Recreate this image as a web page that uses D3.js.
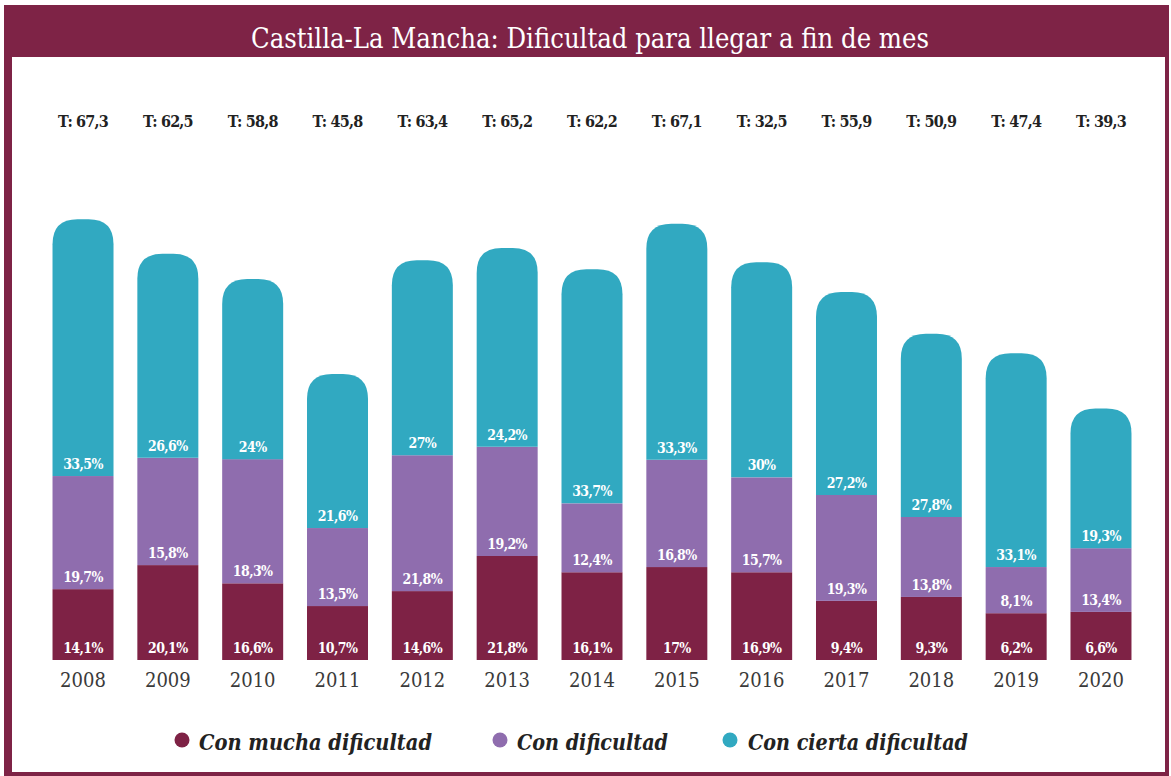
<!DOCTYPE html>
<html><head><meta charset="utf-8">
<script src="https://cdn.jsdelivr.net/npm/d3@7/dist/d3.min.js"></script>
<style>
html,body{margin:0;padding:0;background:#fff;}
svg{display:block;}
</style></head>
<body>
<svg id="chart" width="1171" height="776"></svg>
<script>
// ---- data ----
const years = ["2008","2009","2010","2011","2012","2013","2014","2015","2016","2017","2018","2019","2020"];
// values printed on the chart (%)
const mucha = [14.1,20.1,16.6,10.7,14.6,21.8,16.1,17,16.9,9.4,9.3,6.2,6.6];
const dificultad = [19.7,15.8,18.3,13.5,21.8,19.2,12.4,16.8,15.7,19.3,13.8,8.1,13.4];
const cierta = [33.5,26.6,24,21.6,27,24.2,33.7,33.3,30,27.2,27.8,33.1,19.3];
const totals = [67.3,62.5,58.8,45.8,63.4,65.2,62.2,67.1,32.5,55.9,50.9,47.4,39.3];
// segment heights as plotted in the original infographic (not proportional to labels)
const muchaPlotted = [10.9,14.6,11.8,8.3,10.6,16.0,13.5,14.3,13.5,9.1,9.7,7.2,7.4];
const dificultadPlotted = [17.4,16.5,19.1,12.0,20.9,16.8,10.6,16.5,14.6,16.3,12.3,7.1,9.8];
const ciertaPlotted = [39.5,31.4,27.7,23.7,30.0,30.6,36.0,36.3,33.1,31.2,28.2,32.9,21.5];
const seriesNames = ["Con mucha dificultad","Con dificultad","Con cierta dificultad"];
const colors = ["#7e2245","#8f6dae","#31a9c1"];
const title = "Castilla-La Mancha: Dificultad para llegar a fin de mes";

// ---- drawing ----
const svg = d3.select("#chart");
const maroon = "#7e2346";
const serif = "'Roboto Slab','DejaVu Serif Condensed','DejaVu Serif',serif";

// frame
svg.append("rect").attr("x",4).attr("y",5).attr("width",1164).attr("height",52).attr("fill",maroon);
svg.append("rect").attr("x",4).attr("y",5).attr("width",8).attr("height",771).attr("fill",maroon);
svg.append("rect").attr("x",1165).attr("y",5).attr("width",4).attr("height",771).attr("fill",maroon);
svg.append("rect").attr("x",4).attr("y",772).attr("width",1165).attr("height",4).attr("fill",maroon);

svg.append("text").attr("x",590).attr("y",48).attr("text-anchor","middle")
  .attr("fill","#fff").attr("font-family",serif).attr("font-size",27)
  .attr("textLength",678).attr("lengthAdjust","spacingAndGlyphs")
  .text(title);

const x = d3.scaleBand().domain(years).range([40.6,1143.4]).paddingInner(0.281).paddingOuter(0.1405);
const y = d3.scaleLinear().domain([0,70]).range([660,205]);

const rows = years.map((yr,i)=>{
  const a = muchaPlotted[i], b = dificultadPlotted[i], c = ciertaPlotted[i];
  return {yr, segs:[
    {v:mucha[i], y0:0, y1:a, k:0},
    {v:dificultad[i], y0:a, y1:a+b, k:1},
    {v:cierta[i], y0:a+b, y1:a+b+c, k:2}
  ], total: totals[i]};
});

const fmt = v => String(v).replace(".",",");
const bw = x.bandwidth();
const r = 25;

const g = svg.append("g");
rows.forEach(row=>{
  const x0 = x(row.yr), cx = x0 + bw/2;
  row.segs.forEach(s=>{
    const yb = y(s.y0), yt = y(s.y1);
    if (s.k < 2) {
      g.append("rect").attr("x",x0).attr("y",yt).attr("width",bw).attr("height",yb-yt).attr("fill",colors[s.k]);
    } else {
      const p = d3.path();
      p.moveTo(x0,yb); p.lineTo(x0,yt+r);
      p.quadraticCurveTo(x0,yt,x0+r,yt);
      p.lineTo(x0+bw-r,yt);
      p.quadraticCurveTo(x0+bw,yt,x0+bw,yt+r);
      p.lineTo(x0+bw,yb); p.closePath();
      g.append("path").attr("d",p.toString()).attr("fill",colors[2]);
    }
    g.append("text").attr("x",cx).attr("y",yb-7).attr("text-anchor","middle")
      .attr("fill","#fff").attr("font-family",serif).attr("font-size",14).attr("font-weight",600)
      .attr("letter-spacing","-0.6").text(fmt(s.v)+"%");
  });
  g.append("text").attr("x",cx).attr("y",127).attr("text-anchor","middle")
    .attr("fill","#222").attr("font-family",serif).attr("font-size",16).attr("font-weight",700)
    .attr("letter-spacing","-0.8").text("T: "+fmt(row.total));
  g.append("text").attr("x",cx).attr("y",687).attr("text-anchor","middle")
    .attr("fill","#3a3a3a").attr("font-family",serif).attr("font-size",20).attr("font-weight",300)
    .text(row.yr);
});

// legend
const leg = [{cx:182,tx:199,w:233},{cx:500,tx:517,w:151},{cx:730,tx:748,w:220}];
seriesNames.forEach((n,i)=>{
  svg.append("circle").attr("cx",leg[i].cx).attr("cy",740).attr("r",7.5).attr("fill",colors[i]);
  svg.append("text").attr("x",leg[i].tx).attr("y",750).attr("fill","#222")
    .attr("font-family",serif).attr("font-size",22).attr("font-weight",700).attr("font-style","italic")
    .attr("textLength",leg[i].w).attr("lengthAdjust","spacingAndGlyphs").text(n);
});
</script>
</body></html>
